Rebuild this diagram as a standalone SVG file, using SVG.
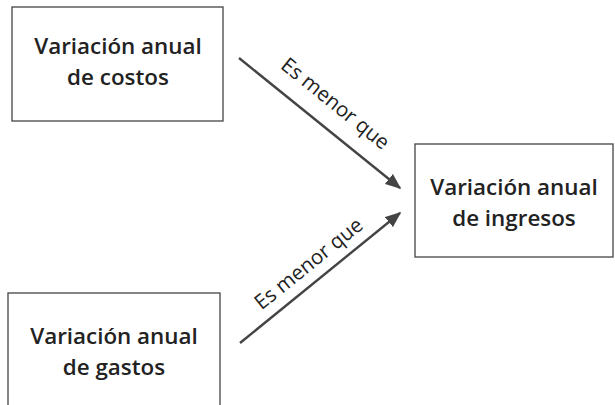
<svg xmlns="http://www.w3.org/2000/svg" width="615" height="405" viewBox="0 0 615 405">
<style>
.box{fill:#fff;stroke:#444;stroke-width:1.3}
.t{font-family:"Open Sans",sans-serif;font-weight:600;font-size:22.4px;fill:#222;text-anchor:middle}
.l{font-family:"Open Sans",sans-serif;font-size:20.5px;fill:#222;text-anchor:middle}
.c{stroke:#444;stroke-width:2.4;fill:none}
</style>
<defs>
<marker id="ah" viewBox="0 0 10 10" refX="9" refY="5" markerWidth="16" markerHeight="13" markerUnits="userSpaceOnUse" orient="auto" preserveAspectRatio="none">
<path d="M0,0 L10,5 L0,10 z" fill="#444"/>
</marker>
</defs>
<rect width="615" height="405" fill="#fff"/>
<g id="costos">
<rect class="box" x="12" y="7" width="211" height="114"/>
<text class="t"><tspan x="118" y="54">Variación anual</tspan><tspan x="118" y="85">de costos</tspan></text>
</g>
<g id="ingresos">
<rect class="box" x="415" y="144" width="198" height="113"/>
<text class="t"><tspan x="514" y="195">Variación anual</tspan><tspan x="514" y="226">de ingresos</tspan></text>
</g>
<g id="gastos">
<rect class="box" x="8" y="293" width="212" height="130"/>
<text class="t"><tspan x="114" y="344">Variación anual</tspan><tspan x="114" y="375">de gastos</tspan></text>
</g>
<g id="connectors">
<line class="c" x1="239" y1="58" x2="400" y2="188" marker-end="url(#ah)"/>
<line class="c" x1="240" y1="343" x2="400" y2="213" marker-end="url(#ah)"/>
<text class="l" transform="translate(331,109) rotate(38.9)">Es menor que</text>
<text class="l" transform="translate(313,269) rotate(-39)">Es menor que</text>
</g>
</svg>
